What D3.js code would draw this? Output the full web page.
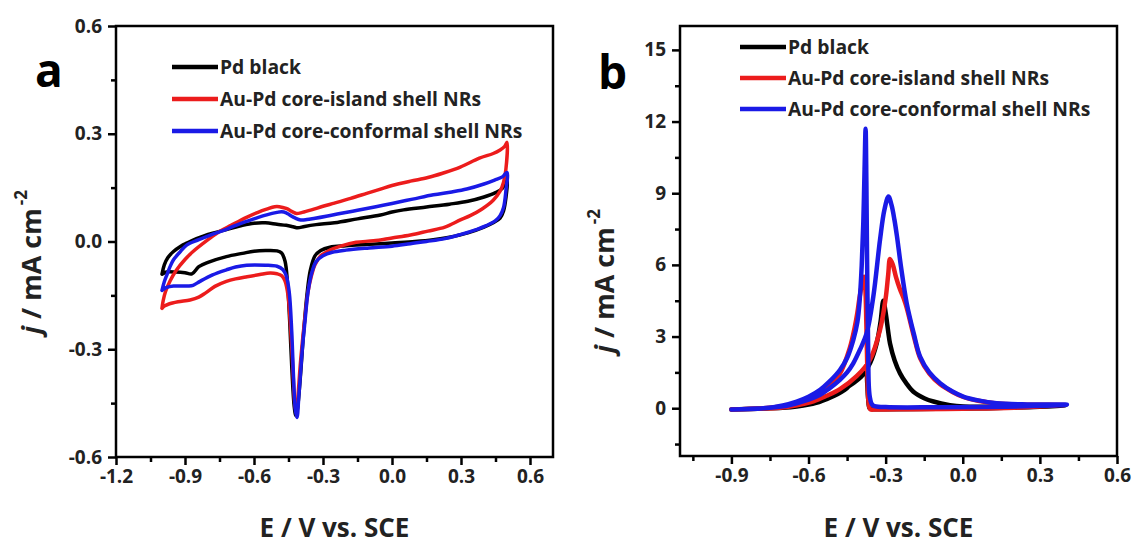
<!DOCTYPE html>
<html>
<head>
<meta charset="utf-8">
<script src="https://cdn.jsdelivr.net/npm/d3@7"></script>
<style>
  body { margin: 0; background: #fff; }
  svg text { font-family: "Open Sans", sans-serif; font-weight: bold; }
</style>
</head>
<body>
<svg id="chart" width="1133" height="545"></svg>
<script>
// ---- data: panel a (CV in acid, j vs E) ----
var seriesNames = ["Pd black", "Au-Pd core-island shell NRs", "Au-Pd core-conformal shell NRs"];
var seriesColors = ["#000000", "#ec1c1c", "#1a1ae6"];

var cvPdBlack = [
  [-1.0,-0.091],[-0.99,-0.065],[-0.975,-0.045],[-0.95,-0.028],[-0.92,-0.014],[-0.89,-0.004],[-0.85,0.008],
  [-0.8,0.02],[-0.72,0.033],[-0.65,0.045],[-0.6,0.051],[-0.55,0.052],[-0.5,0.048],[-0.46,0.045],[-0.43,0.041],
  [-0.41,0.038],[-0.38,0.042],[-0.33,0.047],[-0.25,0.052],[-0.15,0.063],[-0.05,0.074],[0.0,0.082],[0.05,0.088],
  [0.15,0.096],[0.25,0.104],[0.33,0.112],[0.4,0.124],[0.45,0.136],[0.48,0.148],[0.5,0.17],
  [0.495,0.12],[0.485,0.085],[0.47,0.065],[0.44,0.052],[0.4,0.04],[0.33,0.024],[0.25,0.012],[0.18,0.005],
  [0.1,0.0],[0.0,-0.004],[-0.1,-0.008],[-0.2,-0.012],[-0.27,-0.016],[-0.31,-0.025],[-0.335,-0.04],[-0.355,-0.08],
  [-0.37,-0.15],[-0.385,-0.26],[-0.4,-0.39],[-0.412,-0.47],[-0.418,-0.485],[-0.425,-0.46],[-0.435,-0.36],
  [-0.445,-0.22],[-0.455,-0.11],[-0.465,-0.055],[-0.48,-0.032],[-0.5,-0.026],[-0.55,-0.025],[-0.6,-0.027],
  [-0.65,-0.033],[-0.72,-0.042],[-0.8,-0.058],[-0.84,-0.07],[-0.87,-0.09],[-0.9,-0.087],[-0.94,-0.085],
  [-0.98,-0.085],[-1.0,-0.091]
];
var cvIsland = [
  [-1.0,-0.186],[-0.995,-0.165],[-0.985,-0.14],[-0.965,-0.11],[-0.94,-0.082],[-0.9,-0.05],[-0.865,-0.028],
  [-0.8,0.005],[-0.75,0.028],[-0.7,0.045],[-0.63,0.068],[-0.58,0.082],[-0.545,0.09],[-0.51,0.097],[-0.49,0.097],
  [-0.46,0.092],[-0.43,0.082],[-0.415,0.078],[-0.39,0.081],[-0.35,0.088],[-0.3,0.098],[-0.25,0.107],[-0.18,0.12],
  [-0.11,0.134],[-0.05,0.146],[0.0,0.156],[0.08,0.168],[0.156,0.178],[0.22,0.19],[0.297,0.207],[0.38,0.232],
  [0.44,0.245],[0.47,0.255],[0.49,0.265],[0.5,0.276],
  [0.495,0.2],[0.485,0.165],[0.47,0.14],[0.44,0.115],[0.39,0.09],[0.34,0.072],[0.297,0.06],[0.23,0.04],
  [0.156,0.029],[0.08,0.018],[0.0,0.01],[-0.08,0.002],[-0.156,-0.002],[-0.22,-0.012],[-0.27,-0.024],[-0.31,-0.04],
  [-0.335,-0.065],[-0.35,-0.095],[-0.365,-0.14],[-0.38,-0.22],[-0.397,-0.33],[-0.41,-0.44],[-0.416,-0.478],
  [-0.423,-0.45],[-0.432,-0.34],[-0.442,-0.23],[-0.452,-0.15],[-0.465,-0.11],[-0.48,-0.095],[-0.5,-0.09],
  [-0.53,-0.088],[-0.575,-0.092],[-0.63,-0.098],[-0.68,-0.104],[-0.72,-0.111],[-0.77,-0.125],[-0.81,-0.143],
  [-0.84,-0.155],[-0.878,-0.163],[-0.93,-0.168],[-0.97,-0.174],[-0.99,-0.18],[-1.0,-0.186]
];
var cvConformal = [
  [-1.0,-0.136],[-0.99,-0.112],[-0.98,-0.095],[-0.965,-0.07],[-0.95,-0.051],[-0.92,-0.028],[-0.893,-0.01],
  [-0.84,0.005],[-0.79,0.018],[-0.72,0.034],[-0.66,0.05],[-0.6,0.063],[-0.545,0.074],[-0.5,0.081],[-0.48,0.083],
  [-0.46,0.08],[-0.443,0.073],[-0.42,0.065],[-0.397,0.06],[-0.37,0.061],[-0.34,0.064],[-0.28,0.071],[-0.226,0.078],
  [-0.15,0.087],[-0.07,0.097],[0.0,0.106],[0.09,0.118],[0.18,0.13],[0.26,0.138],[0.325,0.146],[0.4,0.16],
  [0.45,0.172],[0.48,0.18],[0.5,0.192],
  [0.495,0.14],[0.485,0.095],[0.47,0.072],[0.45,0.058],[0.41,0.044],[0.37,0.034],[0.3,0.02],[0.23,0.008],
  [0.15,0.0],[0.08,-0.006],[0.0,-0.013],[-0.1,-0.018],[-0.2,-0.024],[-0.26,-0.03],[-0.3,-0.04],[-0.33,-0.056],
  [-0.35,-0.09],[-0.365,-0.14],[-0.378,-0.22],[-0.39,-0.3],[-0.405,-0.43],[-0.413,-0.49],[-0.42,-0.47],
  [-0.428,-0.38],[-0.436,-0.25],[-0.447,-0.14],[-0.46,-0.095],[-0.475,-0.078],[-0.5,-0.069],[-0.55,-0.066],
  [-0.632,-0.066],[-0.68,-0.071],[-0.72,-0.079],[-0.78,-0.093],[-0.835,-0.111],[-0.865,-0.122],[-0.886,-0.124],
  [-0.92,-0.124],[-0.95,-0.124],[-0.98,-0.128],[-1.0,-0.136]
];

// ---- data: panel b (formic acid oxidation) ----
var foPdBlack = [
  [-0.9,-0.05],[-0.8,-0.02],[-0.7,0.02],[-0.646,0.07],[-0.6,0.15],[-0.55,0.3],[-0.517,0.49],[-0.47,0.75],
  [-0.426,1.05],[-0.39,1.38],[-0.36,1.9],[-0.335,2.71],[-0.32,3.6],[-0.309,4.5],[-0.3,4.0],[-0.29,3.2],
  [-0.283,2.71],[-0.265,2.0],[-0.244,1.46],[-0.22,1.05],[-0.192,0.69],[-0.15,0.42],[-0.114,0.28],[-0.05,0.13],
  [0.002,0.07],[0.1,0.06],[0.2,0.07],[0.3,0.09],[0.4,0.12],
  [0.3,0.06],[0.1,0.0],[-0.1,-0.02],[-0.3,-0.04],[-0.35,-0.04],[-0.362,0.0],[-0.368,0.4],[-0.372,1.1],
  [-0.376,1.6],[-0.385,1.55],[-0.41,1.3],[-0.45,0.85],[-0.5,0.52],[-0.55,0.3],[-0.6,0.16],[-0.65,0.08],
  [-0.75,0.0],[-0.9,-0.05]
];
var foIsland = [
  [-0.9,-0.05],[-0.8,-0.02],[-0.711,0.02],[-0.646,0.12],[-0.581,0.29],[-0.53,0.52],[-0.478,0.8],[-0.413,1.34],
  [-0.361,2.03],[-0.322,3.28],[-0.3,4.6],[-0.29,5.6],[-0.283,6.25],[-0.272,6.0],[-0.26,5.5],[-0.245,5.0],
  [-0.23,4.6],[-0.218,4.2],[-0.19,3.0],[-0.166,2.1],[-0.13,1.45],[-0.088,1.0],[-0.04,0.68],[0.002,0.47],
  [0.06,0.31],[0.132,0.2],[0.25,0.15],[0.4,0.13],
  [0.2,0.02],[0.0,-0.02],[-0.2,-0.04],[-0.34,-0.05],[-0.36,-0.04],[-0.367,0.3],[-0.371,1.5],[-0.375,3.5],
  [-0.379,5.0],[-0.384,5.5],[-0.392,5.2],[-0.402,4.6],[-0.41,4.0],[-0.42,3.4],[-0.44,2.5],[-0.478,1.45],
  [-0.52,0.92],[-0.555,0.62],[-0.6,0.38],[-0.646,0.2],[-0.7,0.08],[-0.776,0.0],[-0.9,-0.05]
];
var foConformal = [
  [-0.9,-0.05],[-0.776,0.0],[-0.7,0.08],[-0.646,0.21],[-0.6,0.36],[-0.555,0.56],[-0.52,0.82],[-0.478,1.19],
  [-0.45,1.5],[-0.426,1.88],[-0.4,2.45],[-0.374,3.13],[-0.348,4.67],[-0.322,7.04],[-0.305,8.3],[-0.289,8.86],
  [-0.277,8.5],[-0.266,7.9],[-0.256,7.2],[-0.24,5.9],[-0.218,4.39],[-0.19,3.1],[-0.166,2.16],[-0.13,1.5],
  [-0.088,1.05],[-0.04,0.7],[0.002,0.49],[0.06,0.33],[0.132,0.21],[0.25,0.16],[0.405,0.15],
  [0.3,0.1],[0.1,0.05],[-0.1,0.04],[-0.3,0.05],[-0.35,0.12],[-0.362,0.5],[-0.368,2.5],[-0.372,6.0],
  [-0.375,9.5],[-0.378,11.7],[-0.382,10.0],[-0.387,7.74],[-0.393,6.0],[-0.4,4.67],[-0.41,3.6],[-0.426,2.85],
  [-0.45,2.1],[-0.478,1.6],[-0.52,1.1],[-0.555,0.77],[-0.6,0.48],[-0.646,0.28],[-0.7,0.12],[-0.776,0.0],
  [-0.9,-0.05]
];

// ---- axis ticks ----
var aXDomain = [-1.2, 0.7], aYDomain = [-0.6, 0.6];
var aXTicks = [-1.2, -0.9, -0.6, -0.3, 0.0, 0.3, 0.6];
var aXMinor = [-1.05, -0.75, -0.45, -0.15, 0.15, 0.45];
var aYTicks = [-0.6, -0.3, 0.0, 0.3, 0.6];
var aYMinor = [-0.45, -0.15, 0.15, 0.45];

var bXDomain = [-1.1, 0.6], bYDomain = [-2, 16];
var bXTicks = [-0.9, -0.6, -0.3, 0.0, 0.3, 0.6];
var bXMinor = [-1.05, -0.75, -0.45, -0.15, 0.15, 0.45];
var bYTicks = [0, 3, 6, 9, 12, 15];
var bYMinor = [-1.5, 1.5, 4.5, 7.5, 10.5, 13.5];

var svg = d3.select("#chart");
svg.append("rect").attr("width", 1133).attr("height", 545).attr("fill", "#fff");

function drawPanel(p)
{
  var x = d3.scaleLinear().domain(p.xDomain).range([p.left, p.right]);
  var y = d3.scaleLinear().domain(p.yDomain).range([p.bottom, p.top]);
  var g = svg.append("g");

  // minor ticks first
  g.append("g").attr("transform", "translate(0," + p.bottom + ")")
   .call(d3.axisBottom(x).tickValues(p.xMinor).tickSize(5).tickFormat(""));
  g.append("g").attr("transform", "translate(" + p.left + ",0)")
   .call(d3.axisLeft(y).tickValues(p.yMinor).tickSize(5).tickFormat(""));

  g.append("g").attr("transform", "translate(0," + p.bottom + ")")
   .call(d3.axisBottom(x).tickValues(p.xTicks).tickSize(8).tickPadding(5)
         .tickFormat(function(d) { return d.toFixed(1); }));
  g.append("g").attr("transform", "translate(" + p.left + ",0)")
   .call(d3.axisLeft(y).tickValues(p.yTicks).tickSize(8).tickPadding(6)
         .tickFormat(p.yFormat));

  g.selectAll(".domain").remove();
  g.selectAll(".tick line").attr("stroke", "#000").attr("stroke-width", 2.5);
  g.selectAll(".tick text").attr("fill", "#222").style("font-size", "19px")
   .style("font-family", "'Open Sans', sans-serif").style("font-weight", "bold");

  // curves
  var line = d3.line()
               .x(function(d) { return x(d[0]); })
               .y(function(d) { return y(d[1]); })
               .curve(d3.curveCatmullRom.alpha(0.5));

  p.series.forEach(function(s, i) {
    g.append("path")
     .datum(s)
     .attr("d", line)
     .attr("fill", "none")
     .attr("stroke", seriesColors[i])
     .attr("stroke-width", p.lineWidth)
     .attr("stroke-linejoin", "round")
     .attr("stroke-linecap", "round");
  });

  // frame
  g.append("rect")
   .attr("x", p.left).attr("y", p.top)
   .attr("width", p.right - p.left).attr("height", p.bottom - p.top)
   .attr("fill", "none").attr("stroke", "#000").attr("stroke-width", 2.5);

  // legend
  seriesNames.forEach(function(name, i) {
    var ly = p.legendY + i * p.legendGap;
    g.append("line")
     .attr("x1", p.legendX).attr("x2", p.legendX + 46)
     .attr("y1", ly).attr("y2", ly)
     .attr("stroke", seriesColors[i]).attr("stroke-width", 4.5);
    g.append("text")
     .attr("x", p.legendX + 48).attr("y", ly)
     .attr("dy", "0.36em")
     .style("font-size", "19.3px").attr("fill", "#222")
     .text(name);
  });

  // panel letter
  g.append("text").attr("x", p.letterX).attr("y", p.letterY)
   .style("font-size", "46px").attr("fill", "#000").text(p.letter);

  // x title
  g.append("text").attr("x", (p.left + p.right) / 2).attr("y", 537)
   .attr("text-anchor", "middle").style("font-size", "26px").attr("fill", "#222")
   .text("E / V vs. SCE");

  // y title
  var yt = g.append("text")
            .attr("transform", "translate(" + p.yTitleX + "," + p.yTitleY + ") rotate(-90)")
            .style("font-size", "27px").attr("fill", "#222");
  yt.append("tspan").style("font-style", "italic").text("j");
  yt.append("tspan").text(" / mA cm");
  yt.append("tspan").attr("dx", 3).attr("dy", -14).style("font-size", "17px").text("-2");
}

drawPanel({
  left: 116, right: 553, top: 26, bottom: 457,
  xDomain: aXDomain, yDomain: aYDomain,
  xTicks: aXTicks, xMinor: aXMinor, yTicks: aYTicks, yMinor: aYMinor,
  yFormat: function(d) { return d.toFixed(1); },
  series: [cvPdBlack, cvIsland, cvConformal],
  lineWidth: 3.5,
  legendX: 172, legendY: 67, legendGap: 32,
  letter: "a", letterX: 35, letterY: 87,
  yTitleX: 41, yTitleY: 334
});

drawPanel({
  left: 680, right: 1117, top: 26, bottom: 456,
  xDomain: bXDomain, yDomain: bYDomain,
  xTicks: bXTicks, xMinor: bXMinor, yTicks: bYTicks, yMinor: bYMinor,
  yFormat: function(d) { return String(d); },
  series: [foPdBlack, foIsland, foConformal],
  lineWidth: 4.5,
  legendX: 740, legendY: 47, legendGap: 31,
  letter: "b", letterX: 598, letterY: 89,
  yTitleX: 614, yTitleY: 353
});
</script>
</body>
</html>
